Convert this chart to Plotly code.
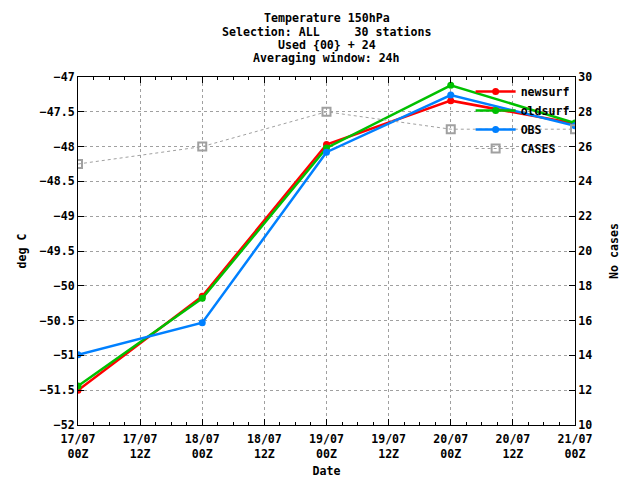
import plotly.graph_objects as go

# data
x_hours = [0, 24, 48, 72, 96]
newsurf = [-51.50, -50.15, -47.97, -47.34, -47.67]
oldsurf = [-51.44, -50.18, -48.02, -47.12, -47.66]
obs = [-50.99, -50.53, -48.08, -47.26, -47.70]
cases = [25, 26, 28, 27, 27]

tick_vals = [0, 12, 24, 36, 48, 60, 72, 84, 96]
tick_text = ["17/07<br>00Z", "17/07<br>12Z", "18/07<br>00Z", "18/07<br>12Z",
             "19/07<br>00Z", "19/07<br>12Z", "20/07<br>00Z", "20/07<br>12Z",
             "21/07<br>00Z"]
title_lines = ["Temperature 150hPa",
               "Selection: ALL\u00a0\u00a0\u00a0\u00a0\u00a030 stations",
               "Used {00} + 24",
               "Averaging window: 24h"]

FONT = "DejaVu Sans Mono"
fnt = dict(family=FONT, size=11.6, color="black", weight="bold")

fig = go.Figure()
fig.add_trace(go.Scatter(x=x_hours, y=newsurf, name="newsurf", mode="lines+markers",
                         line=dict(color="#ff0000", width=2.5),
                         marker=dict(symbol="circle", size=7, color="#ff0000")))
fig.add_trace(go.Scatter(x=x_hours, y=oldsurf, name="oldsurf", mode="lines+markers",
                         line=dict(color="#00c000", width=2.5),
                         marker=dict(symbol="circle", size=7, color="#00c000")))
fig.add_trace(go.Scatter(x=x_hours, y=obs, name="OBS", mode="lines+markers",
                         line=dict(color="#0080ff", width=2.5),
                         marker=dict(symbol="circle", size=7, color="#0080ff")))
fig.add_trace(go.Scatter(x=x_hours, y=cases, name="CASES", mode="lines+markers", yaxis="y2",
                         line=dict(color="#a0a0a0", width=1, dash="dot"),
                         marker=dict(symbol="square-open", size=8, color="#a0a0a0",
                                     line=dict(width=2, color="#a0a0a0"))))

L, R, T, B = 78, 65, 77, 55
H = 480 - T - B
annotations = []
ys = [18, 32, 45, 58]
for txt, yp in zip(title_lines, ys):
    annotations.append(dict(text=txt, xref="paper", yref="paper", x=0.5,
                            y=(480 - B - yp) / H, xanchor="center", yanchor="middle",
                            showarrow=False, font=fnt))

fig.update_layout(
    width=640, height=480,
    margin=dict(l=L, r=R, t=T, b=B, autoexpand=False),
    paper_bgcolor="white", plot_bgcolor="white",
    font=fnt,
    showlegend=True,
    legend=dict(x=0.79, y=1.0, xanchor="left", yanchor="top", bgcolor="rgba(0,0,0,0)",
                font=fnt, itemwidth=40, tracegroupgap=0),
    annotations=annotations,
    xaxis=dict(range=[0, 96], tickvals=tick_vals, ticktext=tick_text, automargin=False,
               showgrid=True, gridcolor="#a0a0a0", griddash="dot", gridwidth=1,
               showline=True, linecolor="black", linewidth=1, mirror="ticks",
               ticks="inside", ticklen=6, tickcolor="black", ticklabelstandoff=3,
               minor=dict(dtick=3, tick0=0, ticks="inside", ticklen=3, tickcolor="black", showgrid=False),
               zeroline=False, tickfont=fnt,
               title=dict(text="Date", font=fnt, standoff=6)),
    yaxis=dict(range=[-52, -47], dtick=0.5, tick0=-52, automargin=False,
               showgrid=True, gridcolor="#a0a0a0", griddash="dot", gridwidth=1,
               showline=True, linecolor="black", linewidth=1, mirror=True,
               ticks="inside", ticklen=6, tickcolor="black", zeroline=False,
               tickfont=fnt, title=dict(text="deg C", font=fnt, standoff=10)),
    yaxis2=dict(range=[10, 30], dtick=2, tick0=10, overlaying="y", side="right", automargin=False,
                showgrid=False, showline=True, linecolor="black", linewidth=1,
                ticks="inside", ticklen=6, tickcolor="black", zeroline=False,
                tickfont=fnt, title=dict(text="No cases", font=fnt, standoff=18)),
)

fig.write_html("out.html", config={"displayModeBar": False},
               post_script="document.body.style.margin='0';document.body.style.overflow='hidden';")
